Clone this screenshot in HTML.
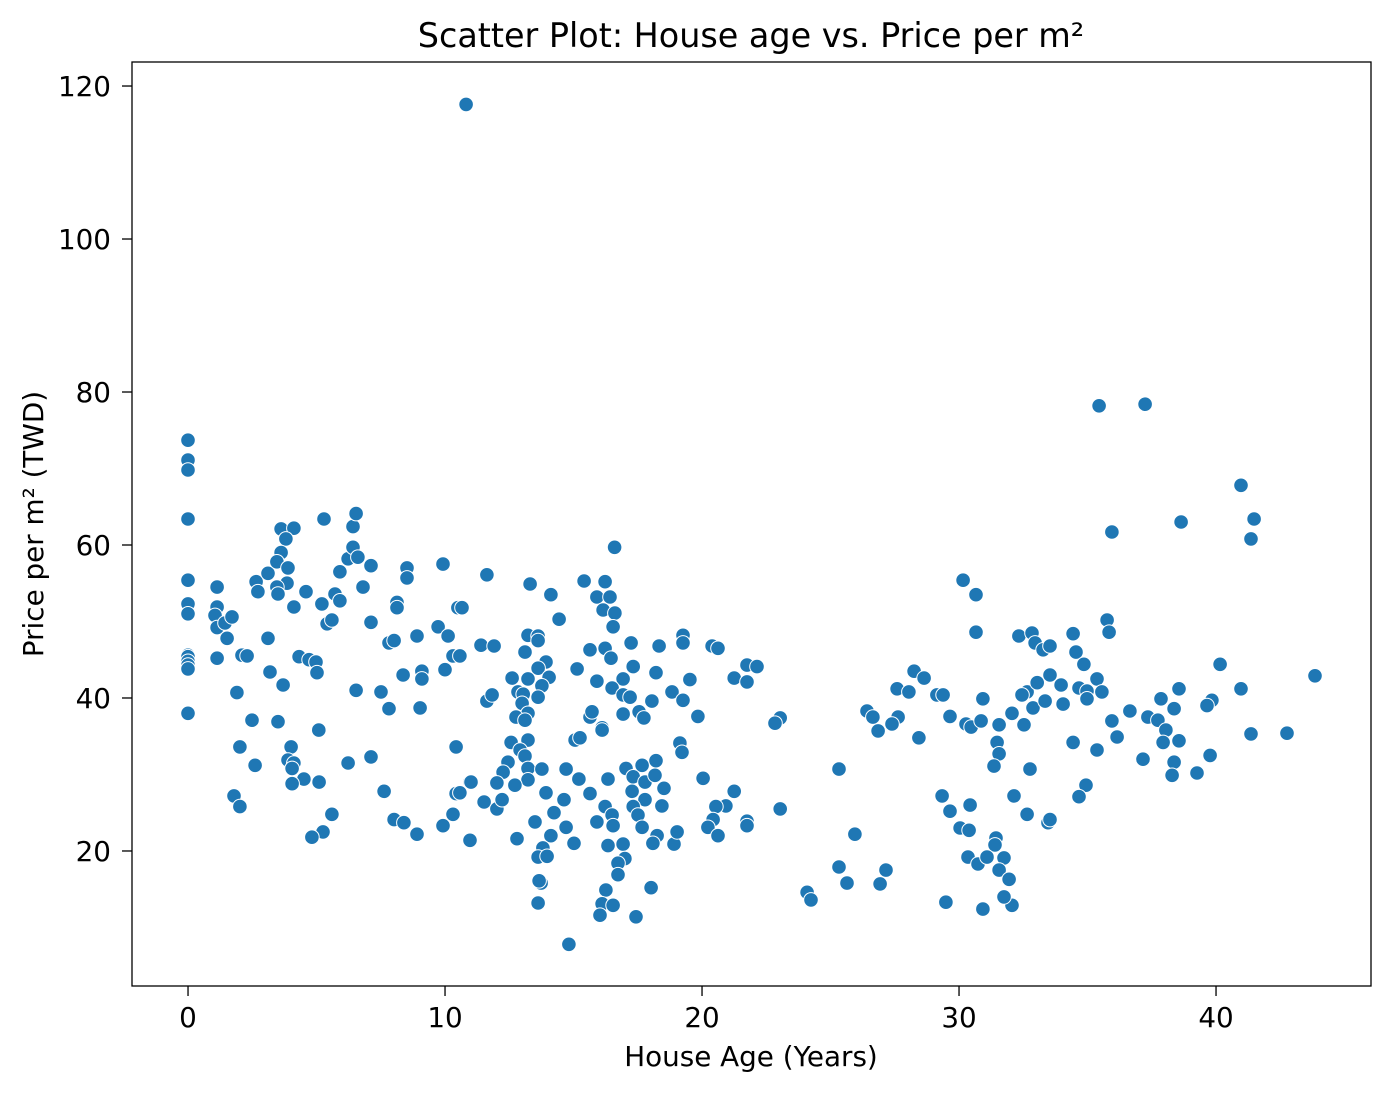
<!DOCTYPE html>
<html><head><meta charset="utf-8"><style>
html,body{margin:0;padding:0;background:#fff;}
svg{display:block;font-family:"DejaVu Sans","Liberation Sans",sans-serif;}
</style></head><body>
<svg id="chart" width="1391" height="1093" viewBox="0 0 1391 1093">
<rect x="0" y="0" width="1391" height="1093" fill="#fff"/>
<text x="751" y="47" text-anchor="middle" font-size="33.4" fill="#000">Scatter Plot: House age vs. Price per m²</text>
<g id="points"></g>
<g id="xticks"></g>
<g id="yticks"></g>
<rect x="132" y="62" width="1239" height="924" fill="none" stroke="#000" stroke-width="1.3"/>
<text x="751" y="1066" text-anchor="middle" font-size="27.8" fill="#000">House Age (Years)</text>
<text transform="translate(43,524) rotate(-90)" text-anchor="middle" font-size="27.8" fill="#000">Price per m² (TWD)</text>
</svg>
<script>
const xTicks=[0,10,20,30,40];
const yTicks=[20,40,60,80,100,120];
const ages=[0,0,0,0,0,0,0,0,0,0,0,0,1.13,1.13,1.05,1.13,1.44,1.71,1.52,1.13,2.1,2.3,1.9,2.65,2.72,3.11,3.11,3.19,3.7,3.62,4.12,3.81,3.62,3.46,3.89,3.85,3.46,3.5,4.12,4.59,4.32,4.71,4.98,5.02,5.29,5.21,5.72,5.91,5.41,5.6,5.91,6.23,6.42,6.61,6.42,6.54,7.12,6.81,7.12,6.54,7.51,7.82,8.02,8.13,8.13,8.52,8.52,8.91,8.37,9.1,9.1,9.92,10.5,9.73,10.12,10.31,10.0,
0,2.49,3.5,5.09,2.02,4.01,3.89,4.12,4.05,2.61,6.23,7.12,7.82,9.03,4.51,5.1,4.05,7.63,1.79,2.02,5.6,8.02,8.4,8.91,5.25,4.82,9.92,10.31,10.43,10.43,10.97,10.97,10.82,
16.6,11.63,13.31,14.12,15.41,16.23,15.91,16.42,16.15,16.61,16.54,10.66,14.44,13.23,13.62,13.62,11.4,11.91,13.11,15.64,16.23,16.46,17.24,18.33,19.26,19.26,20.39,20.62,13.93,13.62,14.05,12.61,13.23,13.77,12.84,13.04,13.62,15.14,15.91,16.93,17.32,18.21,16.5,16.93,17.2,18.83,19.26,19.53,18.05,11.63,11.83,13.0,13.23,12.76,13.11,15.64,15.72,16.93,17.55,17.74,19.84,16.11,21.25,21.75,22.14,21.75,10.58,
16.11,15.06,15.25,12.57,13.23,12.92,13.11,12.45,13.23,13.77,12.26,13.23,12.02,12.72,11.01,14.71,15.21,16.34,17.04,17.67,18.21,17.32,17.78,18.17,18.52,17.28,17.78,18.44,17.32,17.51,17.67,18.25,18.09,18.91,19.03,19.14,19.22,20.04,21.25,20.93,20.54,20.43,20.23,20.62,21.75,21.75,13.93,14.63,15.64,16.23,16.5,15.91,16.54,14.24,14.71,13.5,11.52,12.02,12.22,10.58,12.8,14.12,15.02,16.34,16.93,17.0,16.73,16.73,13.81,13.62,13.97,13.74,13.66,13.62,16.26,16.11,16.54,16.03,18.02,17.43,14.82,
23.04,22.84,25.33,23.04,25.95,25.33,25.64,27.16,26.93,24.09,24.24,29.49,30.93,32.06,31.75,30.66,32.33,32.84,32.96,33.27,28.25,28.64,27.59,28.05,29.14,29.38,30.93,26.42,26.65,27.63,27.39,26.85,28.44,29.65,30.27,30.47,30.86,31.56,32.06,32.53,32.65,32.45,32.88,33.04,33.35,33.54,31.48,31.56,31.36,32.76,29.34,29.65,30.43,30.04,30.39,32.14,32.65,33.46,31.44,31.4,30.35,30.74,31.09,31.75,31.56,31.95,
35.76,35.84,34.44,33.54,34.55,34.86,33.97,34.67,34.98,35.37,35.56,34.05,34.98,40.16,43.85,40.97,38.56,39.84,39.65,37.86,38.37,36.65,37.35,37.74,35.95,38.05,36.15,37.94,38.56,41.36,42.76,34.44,35.37,37.16,38.37,39.77,38.29,39.26,34.94,34.67,33.54,
35.45,37.24,40.97,41.48,41.36,38.64,35.95,30.16,30.66];
const prices=[73.7,71.1,69.8,63.4,55.4,52.3,51.0,45.6,45.4,44.8,44.3,43.8,54.5,51.9,50.8,49.2,49.8,50.6,47.8,45.2,45.6,45.5,40.7,55.2,53.9,56.3,47.8,43.4,41.7,62.1,62.2,60.8,59.0,57.8,57.0,55.0,54.5,53.6,51.9,53.9,45.4,45.0,44.7,43.3,63.4,52.3,53.6,52.7,49.7,50.2,56.5,58.2,59.7,58.4,62.4,64.1,57.3,54.5,49.9,41.0,40.8,47.2,47.5,52.5,51.8,57.0,55.7,48.1,43.0,43.5,42.5,57.5,51.8,49.3,48.1,45.5,43.7,
38.0,37.1,36.9,35.8,33.6,33.6,31.9,31.5,30.8,31.2,31.5,32.3,38.6,38.7,29.4,29.0,28.8,27.8,27.2,25.8,24.8,24.1,23.7,22.2,22.5,21.8,23.3,24.8,27.5,33.6,29.0,21.4,117.6,
59.7,56.1,54.9,53.5,55.3,55.2,53.2,53.2,51.5,51.1,49.3,51.8,50.3,48.2,48.1,47.5,46.9,46.8,46.0,46.3,46.5,45.2,47.2,46.8,48.2,47.2,46.8,46.5,44.7,43.9,42.7,42.6,42.5,41.6,40.8,40.5,40.1,43.8,42.2,42.5,44.1,43.3,41.3,40.4,40.1,40.8,39.7,42.4,39.6,39.6,40.4,39.3,38.0,37.5,37.1,37.5,38.2,37.9,38.2,37.4,37.6,36.1,42.6,44.3,44.1,42.1,45.5,
35.8,34.5,34.8,34.2,34.5,33.2,32.4,31.6,30.8,30.7,30.3,29.3,28.9,28.6,29.0,30.7,29.4,29.4,30.8,31.2,31.8,29.7,29.0,29.9,28.2,27.8,26.7,25.9,25.8,24.7,23.1,22.0,21.0,20.9,22.5,34.1,32.9,29.5,27.8,25.9,25.8,24.1,23.1,22.0,23.9,23.3,27.6,26.7,27.5,25.8,24.7,23.8,23.3,25.0,23.1,23.8,26.4,25.5,26.7,27.6,21.6,22.0,21.0,20.7,20.9,19.0,18.4,16.9,20.4,19.2,19.3,15.8,16.1,13.2,14.9,13.1,12.9,11.6,15.2,11.4,7.8,
37.4,36.7,30.7,25.5,22.2,17.9,15.8,17.5,15.7,14.6,13.6,13.3,12.4,12.9,14.0,48.6,48.1,48.5,47.2,46.3,43.5,42.6,41.2,40.8,40.4,40.4,39.9,38.3,37.5,37.5,36.6,35.7,34.8,37.6,36.6,36.2,37.0,36.5,38.0,36.5,40.8,40.4,38.7,42.0,39.6,43.0,34.2,32.7,31.1,30.7,27.2,25.2,26.0,23.0,22.7,27.2,24.8,23.7,21.7,20.8,19.2,18.3,19.2,19.1,17.5,16.3,
50.2,48.6,48.4,46.8,46.0,44.4,41.7,41.3,40.9,42.5,40.8,39.2,39.9,44.4,42.9,41.2,41.2,39.7,39.0,39.9,38.6,38.3,37.5,37.1,37.0,35.8,34.9,34.2,34.4,35.3,35.4,34.2,33.2,32.0,31.6,32.5,29.9,30.2,28.6,27.1,24.1,
78.2,78.4,67.8,63.4,60.8,63.0,61.7,55.4,53.5];

const NS='http://www.w3.org/2000/svg';
const X0=132,X1=1371,Y0=986,Y1=62;
const xMin=-2.18,xMax=46.03,yMin=2.35,yMax=123.14;
function sx(v){return X0+(v-xMin)/(xMax-xMin)*(X1-X0);}
function sy(v){return Y0-(v-yMin)/(yMax-yMin)*(Y0-Y1);}
const pg=document.getElementById('points');
const n=Math.min(ages.length,prices.length);
for(let i=0;i<n;i++){
  const c=document.createElementNS(NS,'circle');
  c.setAttribute('cx',sx(ages[i]).toFixed(1));
  c.setAttribute('cy',sy(prices[i]).toFixed(1));
  c.setAttribute('r','7.3');
  c.setAttribute('fill','#1f77b4');
  c.setAttribute('stroke','#fff');
  c.setAttribute('stroke-width','1');
  
  
  pg.appendChild(c);
}
const xg=document.getElementById('xticks');
xTicks.forEach(t=>{
  const x=sx(t);
  const l=document.createElementNS(NS,'line');
  l.setAttribute('x1',x);l.setAttribute('x2',x);l.setAttribute('y1',Y0);l.setAttribute('y2',Y0+10);
  l.setAttribute('stroke','#000');l.setAttribute('stroke-width','1.3');
  
  
  xg.appendChild(l);
  const tx=document.createElementNS(NS,'text');
  tx.setAttribute('x',x);tx.setAttribute('y',1027);
  tx.setAttribute('text-anchor','middle');tx.setAttribute('font-size','27.8');
  tx.textContent=t;
  
  
  xg.appendChild(tx);
});
const yg=document.getElementById('yticks');
yTicks.forEach(t=>{
  const y=sy(t);
  const l=document.createElementNS(NS,'line');
  l.setAttribute('x1',X0-10);l.setAttribute('x2',X0);l.setAttribute('y1',y);l.setAttribute('y2',y);
  l.setAttribute('stroke','#000');l.setAttribute('stroke-width','1.3');
  
  
  yg.appendChild(l);
  const tx=document.createElementNS(NS,'text');
  tx.setAttribute('x',X0-21);tx.setAttribute('y',y+10);
  tx.setAttribute('text-anchor','end');tx.setAttribute('font-size','27.8');
  tx.textContent=t;
  
  
  yg.appendChild(tx);
});
</script>
</body></html>
